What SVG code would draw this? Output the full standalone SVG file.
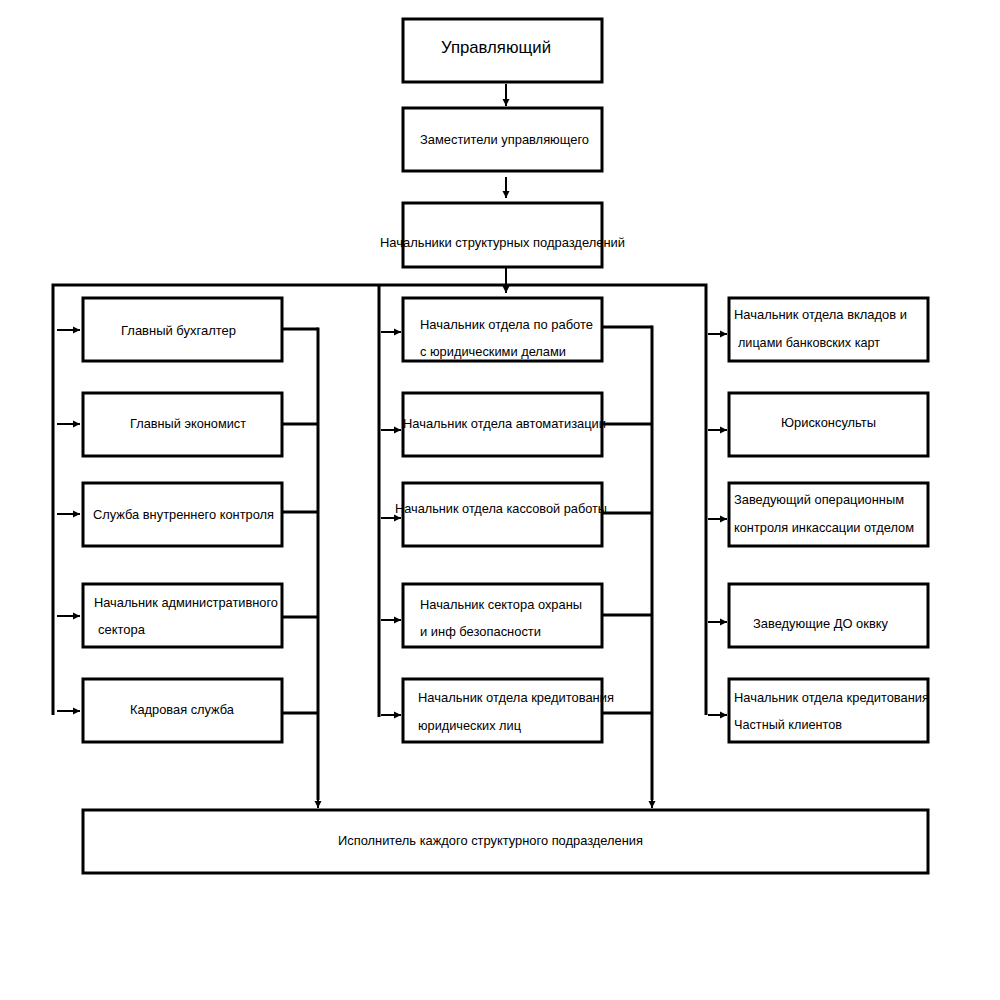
<svg xmlns="http://www.w3.org/2000/svg" width="1000" height="1000" viewBox="0 0 1000 1000">
<style>
.box{fill:#fff;stroke:#000;stroke-width:3}
.t{font-family:"Liberation Sans",Arial,sans-serif;font-size:13px;fill:#000}
.big{font-size:17px}
.ln{stroke:#000;stroke-width:3;fill:none}
.ar{stroke:#000;stroke-width:2;fill:none;marker-end:url(#ah)}
</style>
<defs>
<marker id="ah" markerWidth="8" markerHeight="8" refX="7" refY="4" orient="auto" markerUnits="userSpaceOnUse">
<path d="M0,0.5 L7,4 L0,7.5 Z" fill="#000"/>
</marker>
</defs>
<rect width="1000" height="1000" fill="#fff"/>
<g id="connectors">
<line class="ar" x1="506" y1="84" x2="506" y2="106"/>
<line class="ar" x1="506" y1="177" x2="506" y2="198"/>
<path class="ln" d="M53,715 V285 H706 V715"/>
<line class="ln" x1="379" y1="285" x2="379" y2="717"/>
<line class="ar" x1="506" y1="268" x2="506" y2="293"/>
<!-- left arrows -->
<line class="ar" x1="57" y1="330" x2="80" y2="330"/>
<line class="ar" x1="57" y1="424" x2="80" y2="424"/>
<line class="ar" x1="57" y1="514" x2="80" y2="514"/>
<line class="ar" x1="57" y1="616" x2="80" y2="616"/>
<line class="ar" x1="57" y1="711" x2="80" y2="711"/>
<!-- middle arrows -->
<line class="ar" x1="381" y1="332" x2="401" y2="332"/>
<line class="ar" x1="381" y1="430" x2="401" y2="430"/>
<line class="ar" x1="381" y1="518" x2="401" y2="518"/>
<line class="ar" x1="381" y1="620" x2="401" y2="620"/>
<line class="ar" x1="381" y1="715" x2="401" y2="715"/>
<!-- right arrows -->
<line class="ar" x1="708" y1="334" x2="727" y2="334"/>
<line class="ar" x1="708" y1="430" x2="727" y2="430"/>
<line class="ar" x1="708" y1="519" x2="727" y2="519"/>
<line class="ar" x1="708" y1="622" x2="727" y2="622"/>
<line class="ar" x1="708" y1="715" x2="727" y2="715"/>
<!-- left collector -->
<path class="ln" d="M282,329 H318 M282,424 H318 M282,512 H318 M282,617 H318 M282,713 H318"/>
<line class="ln" x1="318" y1="327.5" x2="318" y2="800"/>
<line class="ar" x1="318" y1="798" x2="318" y2="808"/>
<!-- middle collector -->
<path class="ln" d="M602,327 H652 M602,424 H652 M602,513 H652 M602,615 H652 M602,713 H652"/>
<line class="ln" x1="652" y1="325.5" x2="652" y2="800"/>
<line class="ar" x1="652" y1="798" x2="652" y2="808"/>
</g>
<g id="n-manager"><rect class="box" x="403" y="19" width="199" height="63"/><text class="t big" x="441" y="53" textLength="110" lengthAdjust="spacingAndGlyphs">Управляющий</text></g>
<g id="n-deputies"><rect class="box" x="403" y="108" width="199" height="63"/><text class="t" x="420" y="144" textLength="169" lengthAdjust="spacingAndGlyphs">Заместители управляющего</text></g>
<g id="n-heads"><rect class="box" x="403" y="203" width="199" height="64"/><text class="t" x="380" y="247" textLength="245" lengthAdjust="spacingAndGlyphs">Начальники структурных подразделений</text></g>

<g id="n-l1"><rect class="box" x="83" y="298" width="199" height="63"/><text class="t" x="121" y="335" textLength="115" lengthAdjust="spacingAndGlyphs">Главный бухгалтер</text></g>
<g id="n-l2"><rect class="box" x="83" y="393" width="199" height="63"/><text class="t" x="130" y="428" textLength="116" lengthAdjust="spacingAndGlyphs">Главный экономист</text></g>
<g id="n-l3"><rect class="box" x="83" y="483" width="199" height="63"/><text class="t" x="93" y="519" textLength="181" lengthAdjust="spacingAndGlyphs">Служба внутреннего контроля</text></g>
<g id="n-l4"><rect class="box" x="83" y="584" width="199" height="63"/><text class="t" x="94" y="607" textLength="184" lengthAdjust="spacingAndGlyphs">Начальник административного</text><text class="t" x="98" y="634">сектора</text></g>
<g id="n-l5"><rect class="box" x="83" y="679" width="199" height="63"/><text class="t" x="130" y="714" textLength="104" lengthAdjust="spacingAndGlyphs">Кадровая служба</text></g>

<g id="n-m1"><rect class="box" x="403" y="298" width="199" height="63"/><text class="t" x="420" y="329" textLength="173" lengthAdjust="spacingAndGlyphs">Начальник отдела по работе</text><text class="t" x="420" y="356" textLength="146" lengthAdjust="spacingAndGlyphs">с юридическими делами</text></g>
<g id="n-m2"><rect class="box" x="403" y="393" width="199" height="63"/><text class="t" x="403" y="428" textLength="203" lengthAdjust="spacingAndGlyphs">Начальник отдела автоматизации</text></g>
<g id="n-m3"><rect class="box" x="403" y="483" width="199" height="63"/><text class="t" x="395" y="513" textLength="212" lengthAdjust="spacingAndGlyphs">Начальник отдела кассовой работы</text></g>
<g id="n-m4"><rect class="box" x="403" y="584" width="199" height="63"/><text class="t" x="420" y="609" textLength="162" lengthAdjust="spacingAndGlyphs">Начальник сектора охраны</text><text class="t" x="420" y="636" textLength="121" lengthAdjust="spacingAndGlyphs">и инф  безопасности</text></g>
<g id="n-m5"><rect class="box" x="403" y="679" width="199" height="63"/><text class="t" x="418" y="702" textLength="196" lengthAdjust="spacingAndGlyphs">Начальник отдела кредитования</text><text class="t" x="418" y="730" textLength="103" lengthAdjust="spacingAndGlyphs">юридических лиц</text></g>

<g id="n-r1"><rect class="box" x="729" y="298" width="199" height="63"/><text class="t" x="734" y="319" textLength="173" lengthAdjust="spacingAndGlyphs">Начальник отдела вкладов и</text><text class="t" x="738" y="347" textLength="142" lengthAdjust="spacingAndGlyphs">лицами банковских карт</text></g>
<g id="n-r2"><rect class="box" x="729" y="393" width="199" height="63"/><text class="t" x="781" y="427" textLength="95" lengthAdjust="spacingAndGlyphs">Юрисконсульты</text></g>
<g id="n-r3"><rect class="box" x="729" y="483" width="199" height="63"/><text class="t" x="734" y="504" textLength="170" lengthAdjust="spacingAndGlyphs">Заведующий операционным</text><text class="t" x="734" y="532" textLength="180" lengthAdjust="spacingAndGlyphs">контроля инкассации отделом</text></g>
<g id="n-r4"><rect class="box" x="729" y="584" width="199" height="63"/><text class="t" x="753" y="628" textLength="135" lengthAdjust="spacingAndGlyphs">Заведующие ДО оквку</text></g>
<g id="n-r5"><rect class="box" x="729" y="679" width="199" height="63"/><text class="t" x="734" y="702" textLength="195" lengthAdjust="spacingAndGlyphs">Начальник отдела кредитования</text><text class="t" x="734" y="729" textLength="108" lengthAdjust="spacingAndGlyphs">Частный клиентов</text></g>

<g id="n-executor"><rect class="box" x="83" y="810" width="845" height="63"/><text class="t" x="338" y="845" textLength="305" lengthAdjust="spacingAndGlyphs">Исполнитель каждого структурного подразделения</text></g>
</svg>
